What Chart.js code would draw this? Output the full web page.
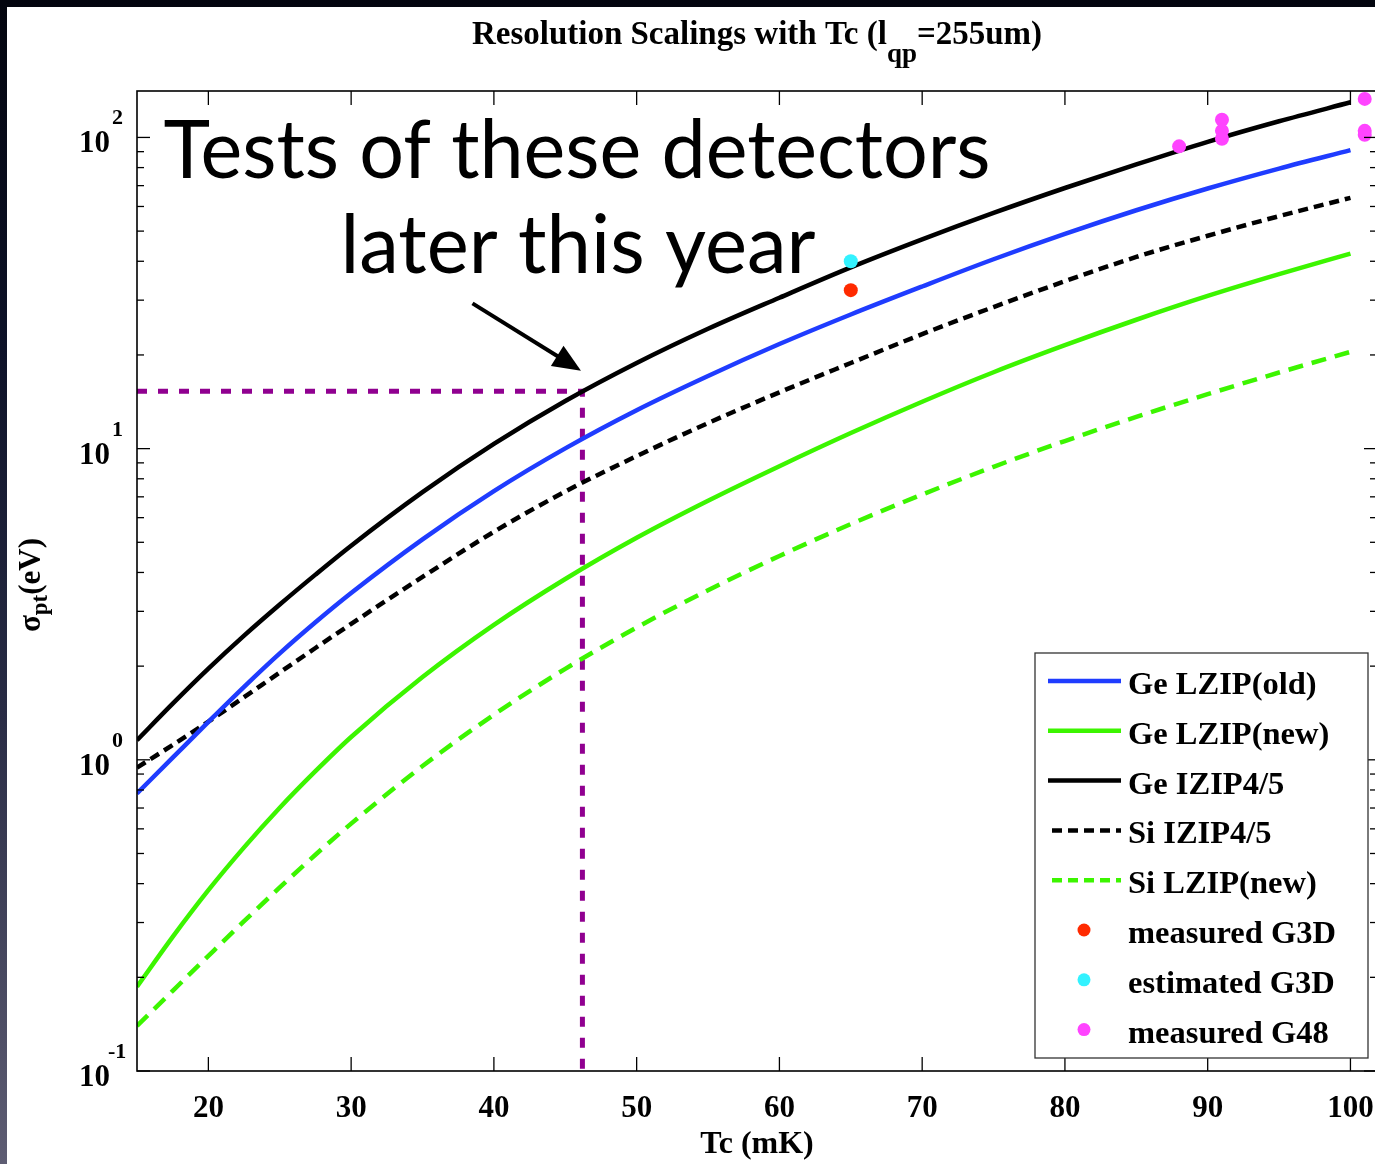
<!DOCTYPE html>
<html>
<head>
<meta charset="UTF-8">
<script src="https://cdn.jsdelivr.net/npm/chart.js@4.4.0/dist/chart.umd.min.js"></script>
<style>
html, body { margin: 0; padding: 0; overflow: hidden; width: 1375px; height: 1164px;
  background: linear-gradient(180deg, #03050e 0%, #0d1228 30%, #2a2d46 62%, #5e5d73 100%); }
#sheet { position: absolute; left: 7px; top: 7px; width: 1400px; height: 1200px; background: #fff; }
#plot { position: absolute; left: 0; top: 0; }
</style>
</head>
<body>
<div id="sheet"></div>
<canvas id="plot" width="1385" height="1164"></canvas>
<script>
// Tc in mK, sigma_pt in eV
var tcMk      = [15, 17.5, 20, 22.5, 25, 27.5, 30, 35, 40, 45, 50, 55, 60, 65, 70, 75, 80, 85, 90, 95, 100];
var geLzipOld = [0.780, 1.016, 1.324, 1.716, 2.198, 2.767, 3.436, 5.111, 7.304, 10.02, 13.29, 17.12, 21.68, 26.98, 33.19, 40.6, 48.98, 58.34, 68.55, 79.43, 90.99];
var geLzipNew = [0.1866, 0.2698, 0.3811, 0.5231, 0.7015, 0.9193, 1.184, 1.845, 2.714, 3.811, 5.17, 6.80, 8.78, 11.22, 14.15, 17.60, 21.50, 25.95, 30.94, 36.35, 42.32];
var geIzip45  = [1.156, 1.515, 1.963, 2.506, 3.155, 3.936, 4.875, 7.244, 10.35, 14.22, 18.84, 24.27, 30.55, 38.24, 47.04, 57.21, 68.79, 81.93, 96.83, 112.7, 129.7];
var siIzip45  = [0.944, 1.116, 1.326, 1.589, 1.908, 2.287, 2.734, 3.871, 5.405, 7.278, 9.462, 12.08, 15.17, 18.84, 23.33, 28.51, 34.51, 41.30, 48.31, 55.85, 63.97];
var siLzipNew = [0.1396, 0.181, 0.2344, 0.3029, 0.389, 0.4955, 0.6237, 0.955, 1.396, 1.961, 2.661, 3.508, 4.519, 5.721, 7.120, 8.742, 10.58, 12.65, 14.96, 17.56, 20.46];

var g3dMeasured  = [[65, 32.3]];
var g3dEstimated = [[65, 40.0]];
var g48Measured  = [[88, 93.6], [91, 114], [91, 105], [91, 99], [101, 133], [101, 105], [101, 102]];

// dotted guide to the operating point, and the arrow pointing at it
var markTc = 46.2, markSigma = 15.3;
var arrowFrom = [38.5, 29.3], arrowTo = [46.1, 17.8];

var xTicks = [20, 30, 40, 50, 60, 70, 80, 90, 100];
var yDecades = [-1, 0, 1, 2];

var serif = '"Liberation Serif", "Times New Roman", serif';

function series(values) {
  return tcMk.map(function (t, i) { return { x: t, y: values[i] }; });
}
function pts(list) {
  return list.map(function (p) { return { x: p[0], y: p[1] }; });
}
function seg(ctx, x1, y1, x2, y2) {
  ctx.beginPath(); ctx.moveTo(x1, y1); ctx.lineTo(x2, y2); ctx.stroke();
}

var lineBase = { type: 'line', pointRadius: 0, borderWidth: 4.5, cubicInterpolationMode: 'monotone', fill: false };
var dotBase = { type: 'scatter', pointRadius: 7, pointBorderWidth: 0, order: -1 };

var datasets = [
  Object.assign({ label: 'Ge LZIP(old)', data: series(geLzipOld), borderColor: '#1f3cff' }, lineBase),
  Object.assign({ label: 'Ge LZIP(new)', data: series(geLzipNew), borderColor: '#3cf500' }, lineBase),
  Object.assign({ label: 'Ge IZIP4/5', data: series(geIzip45), borderColor: '#000000' }, lineBase),
  Object.assign({ label: 'Si IZIP4/5', data: series(siIzip45), borderColor: '#000000', borderDash: [10, 6] }, lineBase),
  Object.assign({ label: 'Si LZIP(new)', data: series(siLzipNew), borderColor: '#3cf500', borderDash: [15, 9] }, lineBase),
  Object.assign({ label: 'measured G3D', data: pts(g3dMeasured), backgroundColor: '#ff2a00', pointRadius: 6.5 }, dotBase),
  Object.assign({ label: 'estimated G3D', data: pts(g3dEstimated), backgroundColor: '#33f2ff', pointRadius: 6.5 }, dotBase),
  Object.assign({ label: 'measured G48', data: pts(g48Measured), backgroundColor: '#ff44ff' }, dotBase),
  { type: 'line', label: '', data: [{ x: 15, y: markSigma }, { x: markTc, y: markSigma }, { x: markTc, y: 0.1 }],
    borderColor: '#900090', borderWidth: 5, borderDash: [10, 11], pointRadius: 0, tension: 0, order: 10, noLegend: true }
];

// box, inward ticks, tick labels, titles
var axesFrame = {
  id: 'axesFrame',
  afterDatasetsDraw: function (chart) {
    var ctx = chart.ctx, a = chart.chartArea, x = chart.scales.x, y = chart.scales.y;
    ctx.save();
    ctx.strokeStyle = '#000';
    ctx.fillStyle = '#000';
    ctx.lineWidth = 1.6;
    ctx.strokeRect(a.left, a.top, a.right - a.left, a.bottom - a.top);
    ctx.lineWidth = 1.3;

    ctx.font = 'bold 31px ' + serif;
    ctx.textAlign = 'center';
    ctx.textBaseline = 'alphabetic';
    xTicks.forEach(function (v) {
      var px = x.getPixelForValue(v);
      seg(ctx, px, a.bottom, px, a.bottom - 14);
      seg(ctx, px, a.top, px, a.top + 14);
      ctx.fillText(String(v), px, a.bottom + 46);
    });

    yDecades.forEach(function (e) {
      for (var m = 1; m <= 9; m++) {
        var v = m * Math.pow(10, e);
        if (v < y.min || v > y.max) continue;
        var py = y.getPixelForValue(v);
        var len = m === 1 ? 13 : 7;
        seg(ctx, a.left, py, a.left + len, py);
        seg(ctx, a.right, py, a.right - len, py);
      }
      var p0 = y.getPixelForValue(Math.pow(10, e));
      ctx.textAlign = 'right';
      ctx.font = 'bold 31px ' + serif;
      ctx.fillText('10', a.left - 27, p0 + 15);
      ctx.textAlign = 'left';
      ctx.font = 'bold 22px ' + serif;
      ctx.fillText(String(e), e < 0 ? a.left - 29 : a.left - 25, p0 - 13);
    });

    // x axis title
    ctx.textAlign = 'center';
    ctx.font = 'bold 32px ' + serif;
    ctx.fillText('Tc (mK)', (a.left + a.right) / 2, a.bottom + 82);

    // chart title with subscript
    var t1 = 'Resolution Scalings with Tc (l', t2 = 'qp', t3 = '=255um)';
    ctx.font = 'bold 33px ' + serif;
    var w1 = ctx.measureText(t1).width, w3 = ctx.measureText(t3).width;
    ctx.font = 'bold 27px ' + serif;
    var w2 = ctx.measureText(t2).width;
    var tx = (a.left + a.right) / 2 - (w1 + w2 + w3) / 2;
    ctx.textAlign = 'left';
    ctx.font = 'bold 33px ' + serif;
    ctx.fillText(t1, tx, 44);
    ctx.fillText(t3, tx + w1 + w2, 44);
    ctx.font = 'bold 27px ' + serif;
    ctx.fillText(t2, tx + w1, 62);

    // y axis title, rotated, with subscript
    ctx.save();
    ctx.translate(40, 585);
    ctx.rotate(-Math.PI / 2);
    ctx.font = 'bold 31px ' + serif;
    var s1 = ctx.measureText('\u03c3').width, s3 = ctx.measureText('(eV)').width;
    ctx.font = 'bold 23px ' + serif;
    var s2 = ctx.measureText('pt').width;
    var sx = -(s1 + s2 + s3) / 2;
    ctx.font = 'bold 31px ' + serif;
    ctx.fillText('\u03c3', sx, 0);
    ctx.fillText('(eV)', sx + s1 + s2, 0);
    ctx.font = 'bold 23px ' + serif;
    ctx.fillText('pt', sx + s1, 7);
    ctx.restore();

    ctx.restore();
  }
};

// boxed legend inside the axes
var boxLegend = {
  id: 'boxLegend',
  afterDraw: function (chart) {
    var ctx = chart.ctx;
    var bx = 1035, by = 653, bw = 333, bh = 405;
    ctx.save();
    ctx.fillStyle = '#fff';
    ctx.fillRect(bx, by, bw, bh);
    ctx.strokeStyle = '#333';
    ctx.lineWidth = 1.3;
    ctx.strokeRect(bx, by, bw, bh);
    ctx.font = 'bold 32.5px ' + serif;
    ctx.textAlign = 'left';
    ctx.textBaseline = 'alphabetic';
    var row = 0;
    chart.data.datasets.forEach(function (ds) {
      if (ds.noLegend) return;
      var ry = 681 + row * 49.8;
      if (ds.type === 'scatter') {
        ctx.fillStyle = ds.backgroundColor;
        ctx.beginPath();
        ctx.arc(1084, ry, 6.5, 0, Math.PI * 2);
        ctx.fill();
      } else {
        ctx.strokeStyle = ds.borderColor;
        ctx.lineWidth = 4.5;
        ctx.setLineDash(ds.borderDash ? [10, 6] : []);
        ctx.lineDashOffset = ds.borderDash ? -4 : 0;
        seg(ctx, 1048, ry, 1121, ry);
        ctx.setLineDash([]);
      }
      ctx.fillStyle = '#000';
      ctx.fillText(ds.label, 1128, ry + 13);
      row++;
    });
    ctx.restore();
  }
};

// slide call-out text and arrow
var callout = {
  id: 'callout',
  afterDraw: function (chart) {
    var ctx = chart.ctx, x = chart.scales.x, y = chart.scales.y;
    ctx.save();
    ctx.fillStyle = '#000';
    ctx.textAlign = 'center';
    ctx.textBaseline = 'alphabetic';
    ctx.font = '82px Lato, "Noto Sans", sans-serif';
    [['Tests of these detectors', 577, 178, 827], ['later this year', 578, 273, 475]].forEach(function (l) {
      var w = ctx.measureText(l[0]).width;
      ctx.save();
      ctx.translate(l[1], l[2]);
      ctx.scale(l[3] / w, 1);
      ctx.fillText(l[0], 0, 0);
      ctx.restore();
    });

    var x1 = x.getPixelForValue(arrowFrom[0]), y1 = y.getPixelForValue(arrowFrom[1]);
    var x2 = x.getPixelForValue(arrowTo[0]), y2 = y.getPixelForValue(arrowTo[1]);
    var ang = Math.atan2(y2 - y1, x2 - x1);
    ctx.strokeStyle = '#000';
    ctx.lineWidth = 4;
    seg(ctx, x1, y1, x2 - 18 * Math.cos(ang), y2 - 18 * Math.sin(ang));
    ctx.beginPath();
    ctx.moveTo(x2, y2);
    ctx.lineTo(x2 - 28 * Math.cos(ang) + 12 * Math.sin(ang), y2 - 28 * Math.sin(ang) - 12 * Math.cos(ang));
    ctx.lineTo(x2 - 28 * Math.cos(ang) - 12 * Math.sin(ang), y2 - 28 * Math.sin(ang) + 12 * Math.cos(ang));
    ctx.closePath();
    ctx.fill();
    ctx.restore();
  }
};

new Chart(document.getElementById('plot'), {
  type: 'line',
  data: { datasets: datasets },
  options: {
    responsive: false,
    animation: false,
    devicePixelRatio: 1,
    layout: { padding: { left: 137, top: 91, right: 8, bottom: 93 } },
    scales: {
      x: { type: 'linear', min: 15, max: 101.86, display: false },
      y: { type: 'logarithmic', min: 0.1, max: 141, display: false }
    },
    plugins: { legend: { display: false }, tooltip: { enabled: false } }
  },
  plugins: [axesFrame, boxLegend, callout]
});
</script>
</body>
</html>
